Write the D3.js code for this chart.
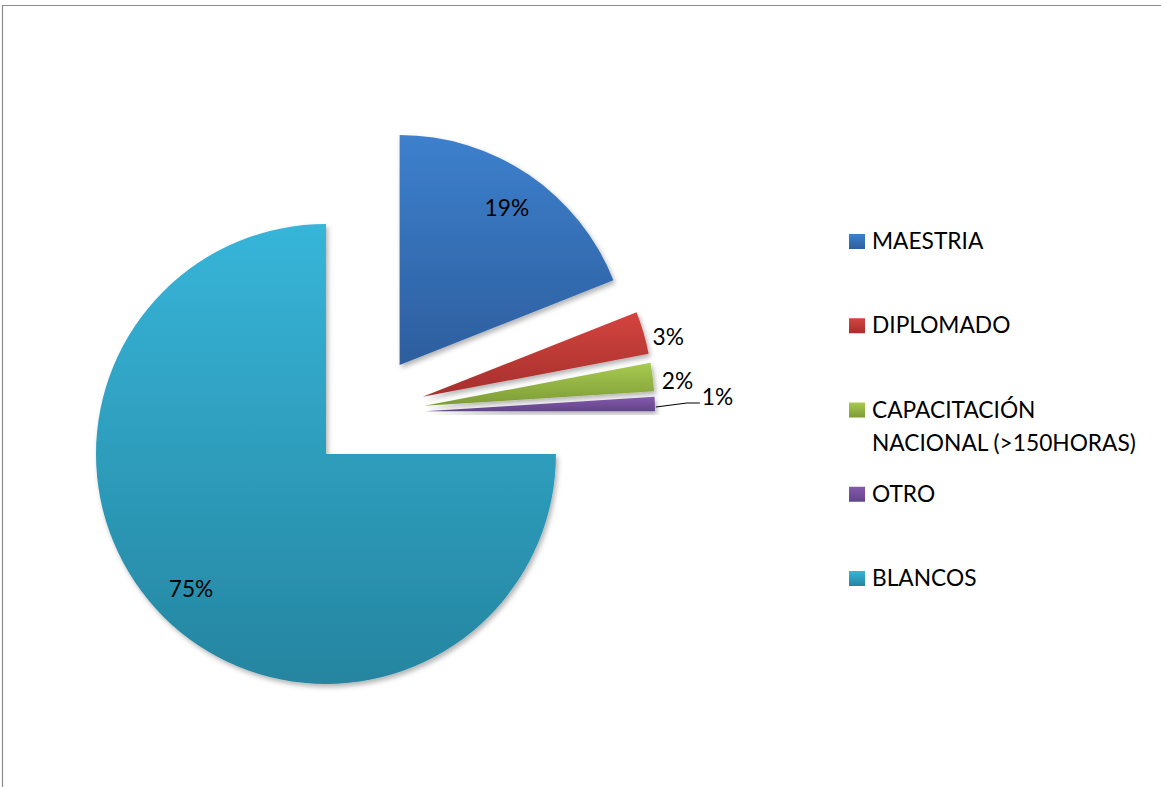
<!DOCTYPE html>
<html>
<head>
<meta charset="utf-8">
<script src="https://cdn.jsdelivr.net/npm/d3@7"></script>
<style>
  html, body { margin: 0; padding: 0; background: #fff; overflow: hidden; }
  text { font-family: Lato, "Open Sans", sans-serif; fill: #000; }
</style>
</head>
<body>
<svg id="chart" width="1161" height="787"></svg>
<script>
// Survey breakdown by type of postgraduate / training
const categories = ["MAESTRIA", "DIPLOMADO", "CAPACITACIÓN NACIONAL (>150HORAS)", "OTRO", "BLANCOS"];
const legendLines = [["MAESTRIA"], ["DIPLOMADO"], ["CAPACITACIÓN", "NACIONAL (>150HORAS)"], ["OTRO"], ["BLANCOS"]];
const percentValues = [19, 3, 2, 1, 75];
const percentLabels = ["19%", "3%", "2%", "1%", "75%"];
const labelInside = [true, false, false, false, true];
const colorsTop = ["#3d80cd", "#d4443f", "#a8cb50", "#8459ad", "#37b5d9"];
const colorsBottom = ["#2d5e9e", "#a52f2c", "#7d9b37", "#614589", "#2585a0"];

const W = 1161, H = 787;
const cx = 367, cy = 413, radius = 230, explode = 58;

const svg = d3.select("#chart");
const defs = svg.append("defs");

// soft drop shadow under each slice
const shadow = defs.append("filter").attr("id", "shadow")
  .attr("x", "-20%").attr("y", "-20%").attr("width", "140%").attr("height", "140%");
shadow.append("feDropShadow").attr("dx", 2).attr("dy", 3).attr("stdDeviation", 2.5)
  .attr("flood-color", "#000").attr("flood-opacity", 0.3);

categories.forEach((c, i) => {
  const g = defs.append("linearGradient").attr("id", "grad" + i)
    .attr("x1", 0).attr("y1", 0).attr("x2", 0).attr("y2", 1);
  g.append("stop").attr("offset", "0%").attr("stop-color", colorsTop[i]);
  g.append("stop").attr("offset", "100%").attr("stop-color", colorsBottom[i]);
});

// chart frame
svg.append("path")
  .attr("d", `M2.5,${H} L2.5,5.5 L${W},5.5`)
  .attr("fill", "none").attr("stroke", "#8c8c8c").attr("stroke-width", 1.2);

const pie = d3.pie().sort(null).value(d => d);
const arcs = pie(percentValues);
const arc = d3.arc().innerRadius(0).outerRadius(radius);

const probe = svg.append("text").attr("font-size", 22).text("NACIONAL (>150HORAS)");
const fontSize = 22 * 264 / probe.node().getComputedTextLength();
probe.remove();

const slices = svg.append("g").selectAll("g.slice")
  .data(arcs).join("g").attr("class", "slice")
  .attr("transform", d => {
    const m = (d.startAngle + d.endAngle) / 2;
    return `translate(${cx + Math.sin(m) * explode},${cy - Math.cos(m) * explode})`;
  });

slices.append("path")
  .attr("d", arc)
  .attr("fill", (d, i) => `url(#grad${i})`)
  .attr("filter", "url(#shadow)");

// data labels
slices.each(function (d, i) {
  const g = d3.select(this);
  const m = (d.startAngle + d.endAngle) / 2;
  const ux = Math.sin(m), uy = -Math.cos(m);
  if (labelInside[i]) {
    g.append("text")
      .attr("x", ux * radius * 0.83).attr("y", uy * radius * 0.83)
      .attr("text-anchor", "middle").attr("dominant-baseline", "central")
      .attr("font-size", fontSize).text(percentLabels[i]);
  } else {
    const ox = ux * radius, oy = uy * radius;
    if (percentValues[i] <= 1) {
      g.append("polyline")
        .attr("points", [[ox + 1, oy + 3], [ox + 32, oy - 1], [ox + 45, oy - 1]].map(p => p.join(",")).join(" "))
        .attr("fill", "none").attr("stroke", "#000").attr("stroke-width", 1.1);
      g.append("text")
        .attr("x", ox + 47).attr("y", oy - 7)
        .attr("dominant-baseline", "central")
        .attr("font-size", fontSize).text(percentLabels[i]);
    } else {
      g.append("text")
        .attr("x", ox + 9).attr("y", oy + 4)
        .attr("dominant-baseline", "central")
        .attr("font-size", fontSize).text(percentLabels[i]);
    }
  }
});

// legend
const legendY = d3.scalePoint().domain(d3.range(categories.length)).range([249, 586]);
const legend = svg.append("g").selectAll("g.item")
  .data(categories).join("g").attr("class", "item")
  .attr("transform", (d, i) => `translate(849,${legendY(i)})`);

legend.append("rect")
  .attr("x", 0).attr("y", -15).attr("width", 16).attr("height", 15)
  .attr("fill", (d, i) => `url(#grad${i})`);

legend.each(function (d, i) {
  const t = d3.select(this).append("text").attr("x", 23).attr("y", 0).attr("font-size", fontSize);
  legendLines[i].forEach((line, k) => {
    t.append("tspan").attr("x", 23).attr("y", k * 33).text(line);
  });
});
</script>
</body>
</html>
